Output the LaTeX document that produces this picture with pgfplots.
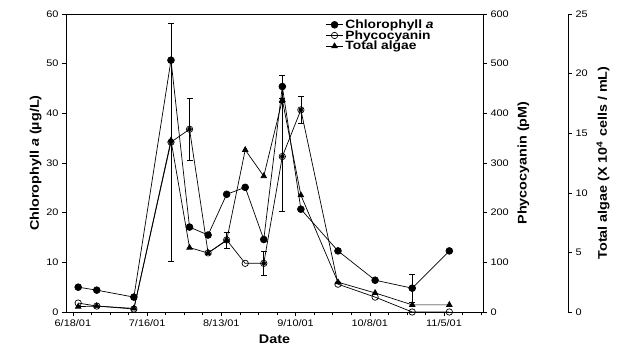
\documentclass[border=0pt]{standalone}
\usepackage{fontspec}
\setmainfont{Liberation Sans}[FakeStretch=1.15]
\usepackage{pgfplots}
\pgfplotsset{compat=1.18}
\usepackage{pgfplotstable}

% day 0 = 6/18/01
\pgfplotstableread{
x y
2 5.0
9 4.4
23 3.0
37 50.7
44 17.1
51 15.5
58 23.7
65 25.1
72 14.6
79 45.4
86 20.7
100 12.3
114 6.4
128 4.8
142 12.3
}\chl
\pgfplotstableread{
x y
2 18
9 12
23 6
37 342
44 368
51 119
58 145
65 98
72 98
79 313
86 407
100 56
114 30
128 0
142 0
}\phy
\pgfplotstableread{
x y
2 0.45
9 0.5
23 0.3
37 14.4
44 5.4
51 4.95
58 6.0
65 13.6
72 11.4
79 17.8
86 9.8
100 2.5
114 1.6
128 0.6
142 0.6
}\alg

\pgfplotsset{
  common/.style={
    at={(66pt,48pt)}, anchor=south west, scale only axis,
    height=298pt,
    tick align=outside,
    major tick length=4pt, minor tick length=2.5pt,
    tick style={black, line width=0.6pt},
    axis line style={black, line width=0.7pt},
    ticklabel style={font=\fontsize{9.5}{10}\selectfont},
    /pgf/number format/assume math mode=true,
    label style={font=\bfseries\fontsize{12.5}{13}\selectfont},
  },
  ser/.style={black, line width=0.7pt},
  eb/.style={only marks, mark=none, forget plot,
    error bars/.cd, y dir=both, y explicit,
    error bar style={black, line width=0.6pt},
    error mark=-,
    error mark options={black, mark size=3pt, line width=0.6pt, rotate=90}},
}

\begin{document}
\begin{tikzpicture}[x=1pt,y=1pt]
\path[use as bounding box] (0,0) rectangle (630,360);

% main axis: chlorophyll
\begin{axis}[common,
  width=417pt,
  xmin=-2.6, xmax=154.7, ymin=0, ymax=60,
  xtick={0,28,56,84,112,140},
  xticklabels={6/18/01,7/16/01,8/13/01,9/10/01,10/8/01,11/5/01},
  minor xtick={7,14,21,35,42,49,63,70,77,91,98,105,119,126,133,147,154},
  ytick={0,10,20,30,40,50,60},
  xtick pos=bottom, ytick pos=left,
  xlabel={Date},
  ylabel={Chlorophyll \textit{a} (µg/L)},
  xlabel style={yshift=-2pt},
  ylabel style={yshift=-2pt},
  legend style={at={(0.615,0.995)}, anchor=north west, draw=none, fill=none,
    font=\bfseries\fontsize{12}{13}\selectfont, row sep=-3.5pt,
    /tikz/every even column/.append style={column sep=5pt}},
  legend cell align=left,
]
\addplot[ser, mark=*, mark size=3.4pt] table[x=x,y=y]{\chl};
\addlegendentry{Chlorophyll \textit{a}}
\addlegendimage{ser, mark=o, mark size=3.2pt, mark options={fill=white}}
\addlegendentry{Phycocyanin}
\addlegendimage{ser, mark=triangle*, mark size=3.2pt}
\addlegendentry{Total algae}
\addplot[eb] coordinates {(79,45.4) +- (0,2.3) (128,4.8) +- (0,2.8)};
\end{axis}

% phycocyanin axis
\begin{axis}[common,
  width=417pt,
  xmin=-2.6, xmax=154.7, ymin=0, ymax=600,
  axis x line=none, axis y line*=right,
  ytick={0,100,200,300,400,500,600},
  ylabel={Phycocyanin (pM)},
  ylabel style={yshift=-2pt},
]
\addplot[eb] coordinates {(37,342) +- (0,240) (44,368) +- (0,62) (58,145) +- (0,16) (72,98) +- (0,25) (86,407) +- (0,28) (79,313) +- (0,110)};
\addplot[ser, mark=o, mark size=3.2pt, mark options={fill=white}] table[x=x,y=y]{\phy};
\end{axis}

% total algae axis
\begin{axis}[common,
  width=502pt,
  xmin=-2.6, xmax=186.76, ymin=0, ymax=25,
  axis x line=none, axis y line*=right,
  ytick={0,5,10,15,20,25},
  ylabel={Total algae (X 10\textsuperscript{4} cells / mL)},
  ylabel style={yshift=-2pt},
]
\addplot[ser, mark=triangle*, mark size=3.2pt] table[x=x,y=y]{\alg};
\end{axis}
\end{tikzpicture}
\end{document}
